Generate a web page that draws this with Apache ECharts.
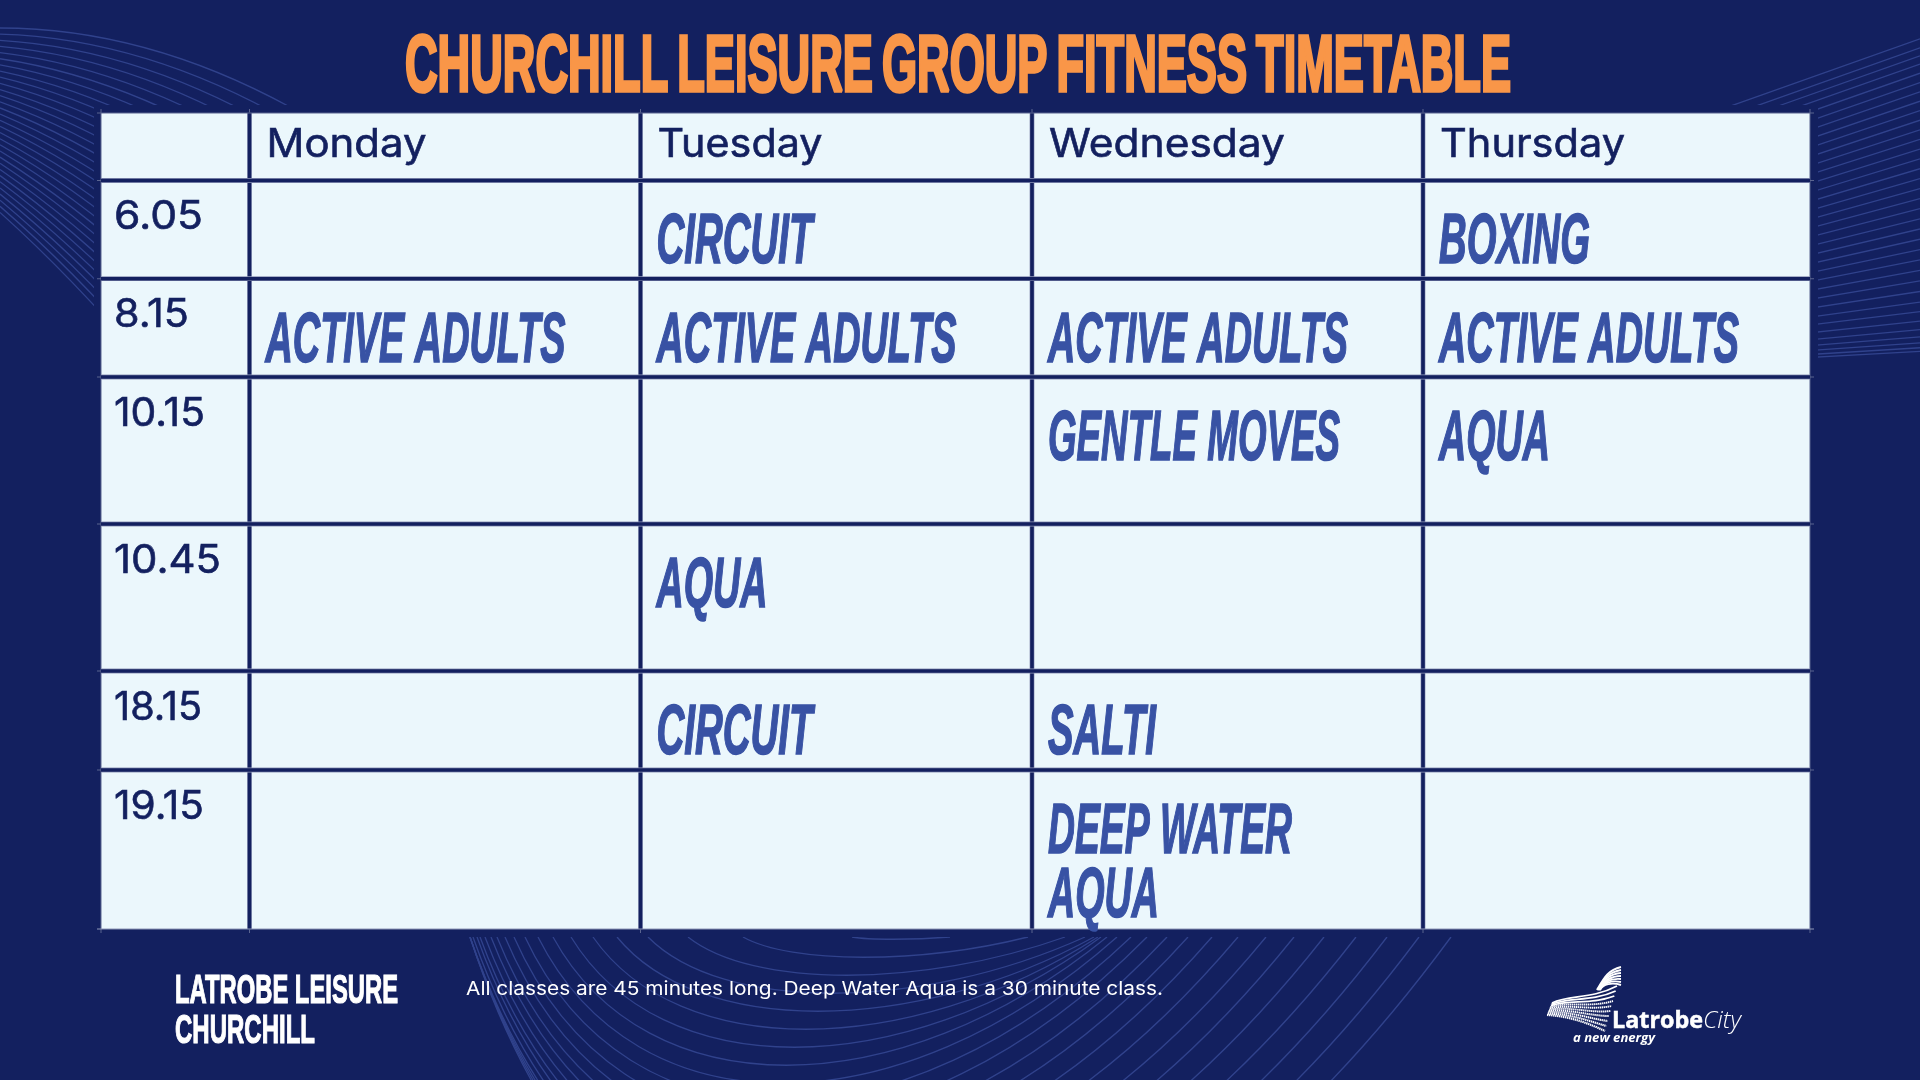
<!DOCTYPE html>
<html><head><meta charset="utf-8">
<style>html,body{margin:0;padding:0;background:#13205F}#c{width:1920px;height:1080px}</style>
<script src="https://cdn.jsdelivr.net/npm/echarts@6/dist/echarts.min.js"></script>
</head><body><div id="c"></div>
<script>
// ---- timetable content ----
const chartTitle = 'CHURCHILL LEISURE GROUP FITNESS TIMETABLE';
const days = ['Monday', 'Tuesday', 'Wednesday', 'Thursday'];
const times = ['6.05', '8.15', '10.15', '10.45', '18.15', '19.15'];
const monday = ['', 'ACTIVE ADULTS', '', '', '', ''];
const tuesday = ['CIRCUIT', 'ACTIVE ADULTS', '', 'AQUA', 'CIRCUIT', ''];
const wednesday = ['', 'ACTIVE ADULTS', 'GENTLE MOVES', '', 'SALTI', 'DEEP WATER\nAQUA'];
const thursday = ['BOXING', 'ACTIVE ADULTS', 'AQUA', '', '', ''];
const footNote = 'All classes are 45 minutes long. Deep Water Aqua is a 30 minute class.';
const venueLines = ['LATROBE LEISURE', 'CHURCHILL'];

// ---- layout (table units = px inside the grid) ----
const colEdges = [0, 148.5, 539.5, 931, 1322, 1709];
const rowEdges = [0, 67.5, 165.7, 264, 411, 558, 657, 816];
const NAVY = '#13205F', CELL = '#EBF7FC', BLUE = '#3852A4', ORANGE = '#F99648', EDGE = '#8F97B8', ART = '#30428C';
const dayWidths = [160, 165, 236, 185];
const timeWidths = [89, 75, 91, 107, 88, 90];
const classWidths = { 'ACTIVE ADULTS': 300, 'CIRCUIT': 156, 'BOXING': 151, 'AQUA': 111, 'GENTLE MOVES': 292, 'SALTI': 108, 'DEEP WATER': 244 };

const mctx = document.createElement('canvas').getContext('2d');
function natural(text, font) { mctx.font = font; return mctx.measureText(text).width; }
const CLASS_FONT = 'italic bold 71px "Liberation Sans Narrow","Liberation Sans"';
const HEAD_FONT = '400 39px Inter';

const classColumns = [monday, tuesday, wednesday, thursday];
const cellData = [];
for (let c = 0; c < 5; c++) for (let r = 0; r < 7; r++) cellData.push([c, r]);
const labelData = [];
days.forEach((d, i) => labelData.push([i + 1, 0, d, 'head', dayWidths[i]]));
times.forEach((t, i) => labelData.push([0, i + 1, t, 'time', timeWidths[i]]));
classColumns.forEach((col, c) => col.forEach((v, r) => { if (v) labelData.push([c + 1, r + 1, v, 'class']); }));

function lineRect(x, y, w, h, fill) { return { type: 'rect', shape: { x, y, width: w, height: h }, style: { fill } }; }

function renderCell(params, api) {
  const c = api.value(0), r = api.value(1);
  const a = api.coord([colEdges[c], rowEdges[r]]), b = api.coord([colEdges[c + 1], rowEdges[r + 1]]);
  return lineRect(a[0], a[1], b[0] - a[0], b[1] - a[1], CELL);
}
function renderLines(params, api) {
  const kind = api.value(0), idx = api.value(1), kids = [];
  const tl = api.coord([0, 0]), br = api.coord([colEdges[5], rowEdges[7]]);
  if (kind === 0) {
    const x = api.coord([colEdges[idx], 0])[0];
    kids.push(lineRect(x - 0.5, tl[1] - 4, 1, br[1] - tl[1] + 8, '#5B6590'));
    if (idx > 0 && idx < 5) {
      kids.push(lineRect(x - 2.4, tl[1], 4.8, br[1] - tl[1], EDGE));
      kids.push(lineRect(x - 1.8, tl[1] - 0.5, 3.6, br[1] - tl[1] + 1, NAVY));
    }
  } else {
    const y = api.coord([0, rowEdges[idx]])[1];
    kids.push(lineRect(tl[0] - 4, y - 0.5, br[0] - tl[0] + 8, 1, idx === 7 ? EDGE : '#5B6590'));
    if (idx > 0 && idx < 7) {
      kids.push(lineRect(tl[0], y - 2.4, br[0] - tl[0], 4.8, EDGE));
      kids.push(lineRect(tl[0], y - 1.8, br[0] - tl[0], 3.6, NAVY));
    }
  }
  return { type: 'group', children: kids };
}
function scaledText(text, x, baseline, font, fontSize, fill, scaleX, midK, extra) {
  return { type: 'text', x, y: baseline - midK * fontSize, scaleX, silent: true,
    style: Object.assign({ text, x: 0, y: 0, font, fill, align: 'left', verticalAlign: 'middle' }, extra || {}) };
}
function renderLabel(params, api) {
  const c = api.value(0), r = api.value(1), item = labelData[params.dataIndex];
  const p = api.coord([colEdges[c], rowEdges[r]]);
  const kind = item[3], text = item[2], headStroke = { stroke: NAVY, lineWidth: 0.6 };
  if (kind === 'head') return scaledText(text, p[0] + 17, p[1] + 46, HEAD_FONT, 39, NAVY, item[4] / natural(text, HEAD_FONT), 0.364, headStroke);
  if (kind === 'time') return scaledText(text, p[0] + 13, p[1] + 51, HEAD_FONT, 39, NAVY, item[4] / natural(text, HEAD_FONT), 0.364, headStroke);
  const lines = text.split('\n');
  return { type: 'group', children: lines.map((ln, i) =>
    scaledText(ln, p[0] + 16, p[1] + 88 + i * 64.5, CLASS_FONT, 71, BLUE, classWidths[ln] / natural(ln, CLASS_FONT), 0.3465, { stroke: BLUE, lineWidth: 1.6 })) };
}

// ---- decorative background linework ----
const art = [];
function addCurve(x1, y1, cx1, cy1, cx2, cy2, x2, y2) {
  art.push({ type: 'bezierCurve', silent: true, z: 0,
    shape: { x1, y1, cpx1: cx1, cpy1: cy1, cpx2: cx2, cpy2: cy2, x2, y2 },
    style: { stroke: ART, lineWidth: 1.3, fill: null } });
}
// top-left fan
for (let i = 0; i <= 30; i++) {
  const y0 = 28 + 6.15 * i, s = 0.03 * i, k = 0.00094, X = 290;
  addCurve(0, y0, X / 3, y0 + s * X / 3, 2 * X / 3, y0 + 2 * s * X / 3 + k * X * X / 3, X, y0 + s * X + k * X * X);
}
// top-right fan
const rightStarts = [75, 84, 92, 100, 109, 118, 127, 136, 145, 154, 163, 172, 181, 190, 199, 208, 217, 226, 235, 244, 253, 262, 271, 280, 289, 298, 307, 316, 324, 332, 339, 345, 350, 354, 357];
rightStarts.forEach(y => {
  const u = (y - 75) / 282, sl = 0.355 - 0.3 * u * u;
  art.push({ type: 'line', silent: true, z: 0, shape: { x1: 1700, y1: y + sl * 118, x2: 1920, y2: y - sl * 102 }, style: { stroke: ART, lineWidth: 1.3 } });
});
// bottom bowl fan
const bowlLeft = [852, 743, 688, 648, 617, 593, 571, 553, 538, 525, 514, 505, 497, 491, 485, 480, 477, 473, 470, 470, 470, 470];
const bowlRight = [950, 1028, 1065, 1085, 1094, 1098, 1101, 1107, 1117, 1131, 1147, 1167, 1188, 1212, 1238, 1266, 1294, 1324, 1356, 1387, 1419, 1451];
bowlLeft.forEach((L, i) => {
  const R = bowlRight[i], w = R - L, h = 18 * i / 0.75 + 3;
  addCurve(L, 937, L + 0.17 * w, 937 + h, R - 0.38 * w, 937 + h, R, 937);
});
// mask around the table
art.push({ type: 'rect', silent: true, z: 1, shape: { x: 94, y: 105, width: 1724, height: 832 }, style: { fill: NAVY } });

// ---- logo mark ----
const WHITE = '#FFFFFF';
function logoCurve(x1, y1, cx1, cy1, cx2, cy2, x2, y2, lw, dash) {
  art.push({ type: 'bezierCurve', silent: true, z: 5,
    shape: { x1, y1, cpx1: cx1, cpy1: cy1, cpx2: cx2, cpy2: cy2, x2, y2 },
    style: { stroke: WHITE, lineWidth: lw, fill: null, lineDash: dash || null } });
}
for (let i = 0; i < 10; i++) {
  const t = i / 9;
  logoCurve(1552 - 5 * t, 1003 + 12 * t, 1570, 994 + 22 * t, 1590, 1000 + 24 * t, 1617 - 12 * t, 986 + 45 * t, 1.7 + 0.5 * t, t > 0.3 ? [1.4, 0.6] : null);
}
for (let i = 0; i < 7; i++) {
  const t = i / 6;
  logoCurve(1597 + 3 * t, 990, 1604 - t, 978 + 6 * t, 1608 + 4 * t, 970 + 12 * t, 1621, 967 + 18 * t, 1.9, null);
}

// ---- text furniture ----
const TITLE_FONT = 'bold 80px "Liberation Sans"';
const FOOT_FONT = '400 18.5px Inter';
const VENUE_FONT = 'bold 41px "Liberation Sans Narrow","Liberation Sans"';
function gText(text, x, baseline, font, size, fill, targetW, midK, extra) {
  return Object.assign(scaledText(text, x, baseline, font, size, fill, targetW / natural(text, font), midK, extra), { z: 6 });
}
const titleDisplay = chartTitle.replace(/ /g, '\u2009');
art.push(gText(titleDisplay, 405, 97, TITLE_FONT, 80, ORANGE, 1106, 0.3465, { stroke: ORANGE, lineWidth: 3.6 }));
art.push(gText(venueLines[0], 175, 1006, VENUE_FONT, 41, WHITE, 223, 0.3465, { stroke: WHITE, lineWidth: 1.2 }));
art.push(gText(venueLines[1], 175, 1046, VENUE_FONT, 41, WHITE, 140, 0.3465, { stroke: WHITE, lineWidth: 1.2 }));
art.push(gText(footNote, 466, 996, FOOT_FONT, 18.5, WHITE, 697, 0.364));
art.push(gText('Latrobe', 1612, 1030, 'bold 23px "Open Sans"', 23, WHITE, 91, 0.36, { stroke: WHITE, lineWidth: 0.5 }));
art.push(gText('City', 1703, 1030, 'italic 300 23px "Open Sans"', 23, WHITE, 38, 0.36));
art.push(gText('a new energy', 1573, 1043, 'italic bold 13px "Open Sans"', 13, WHITE, 82, 0.36));

const chart = echarts.init(document.getElementById('c'), null, { renderer: 'canvas', width: 1920, height: 1080 });
const lineData = [];
colEdges.forEach((_, i) => lineData.push([0, i]));
rowEdges.forEach((_, i) => lineData.push([1, i]));
chart.setOption({
  animation: false,
  backgroundColor: NAVY,
  grid: { left: 101, top: 113, width: 1709, height: 816, containLabel: false, show: false },
  xAxis: { type: 'value', min: 0, max: colEdges[5], show: false },
  yAxis: { type: 'value', min: 0, max: rowEdges[7], inverse: true, show: false },
  graphic: { elements: art },
  series: [
    { type: 'custom', name: 'cells', coordinateSystem: 'cartesian2d', z: 2, silent: true, clip: false, data: cellData, renderItem: renderCell },
    { type: 'custom', name: 'rules', coordinateSystem: 'cartesian2d', z: 3, silent: true, clip: false, data: lineData, encode: { x: -1, y: -1 }, renderItem: renderLines },
    { type: 'custom', name: 'labels', coordinateSystem: 'cartesian2d', z: 4, silent: true, clip: false, data: labelData.map(d => [d[0], d[1]]), renderItem: renderLabel }
  ]
});
</script></body></html>
